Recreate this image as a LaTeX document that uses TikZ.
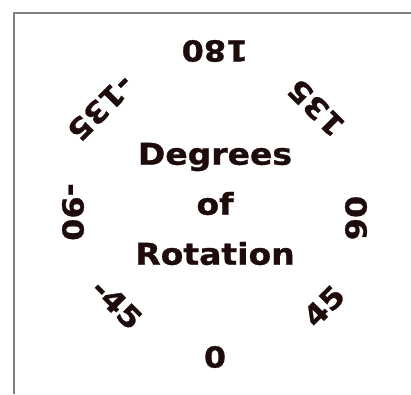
\documentclass[tikz,border=0pt]{standalone}
\usepackage{fontspec}
\setmainfont{DejaVu Sans Bold}[FakeStretch=1.1,FakeBold=1]
\usepackage{tikz}
\definecolor{ink}{RGB}{30,12,12}

\begin{document}
\begin{tikzpicture}[x=1pt,y=1pt,
    dial/.style={text=ink,font=\fontsize{29}{29}\selectfont,inner sep=0pt},
    title/.style={text=ink,font=\fontsize{30}{50}\selectfont,align=center,inner sep=0pt}]
    \useasboundingbox (0,0) rectangle (411,394);
    \draw[gray,line width=2pt] (14,0)--(14,381)--(411,381);
    %%
    \node[title] (deg) at (215,190) {Degrees\\of\\Rotation};
    %%
    \node[dial,rotate=0] (d0) at (215,37) {0};
    \node[dial,rotate=45] (d45) at (324,88) {45};
    \node[dial,rotate=90] (d90) at (356,176) {90};
    \node[dial,rotate=135] (d135) at (316,286) {135};
    \node[dial,rotate=180] (d180) at (215,343) {180};
    %%
    \node[dial,rotate=-45] (m45) at (117,90) {-45};
    \node[dial,rotate=-90] (m90) at (73,182) {-90};
    \node[dial,rotate=-135] (m135) at (101,286) {-135};
\end{tikzpicture}
\end{document}
